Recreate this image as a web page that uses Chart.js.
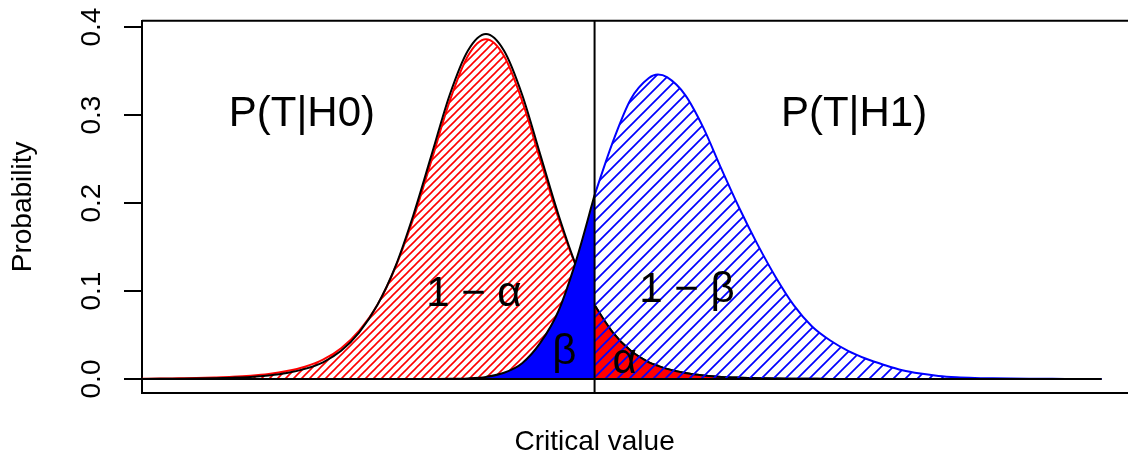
<!DOCTYPE html>
<html>
<head>
<meta charset="utf-8">
<title>Critical value</title>
<script src="https://cdn.jsdelivr.net/npm/chart.js@4"></script>
<style>
  html, body { margin: 0; padding: 0; background: #ffffff; overflow: hidden; }
  canvas { display: block; }
</style>
</head>
<body>
<canvas id="c" width="1128" height="461"></canvas>
<script>
// Test statistic values (shared by all curves)
const XS = [-5.7, -5.4, -5.1, -4.8, -4.5, -4.2, -3.9, -3.6, -3.3, -3.0,
            -2.7, -2.4, -2.1, -1.8, -1.5, -1.2, -0.9, -0.6, -0.3, 0.0,
             0.3,  0.6,  0.9,  1.2,  1.5,  1.8,  2.1,  2.4,  2.7, 2.85,
             3.0,  3.3,  3.6,  3.9,  4.2,  4.5,  4.8,  5.1,  5.4,  5.7,
             6.0,  6.3,  6.6,  6.9,  7.2,  7.5,  7.8,  8.1,  8.4,  8.7,
             9.0,  9.3,  9.6,  9.9, 10.2];

// Critical value separating the acceptance and rejection regions
const CRIT = 1.8;

// Density under H0 (black outline)
const H0_DENSITY = [0.0001, 0.0002, 0.0003, 0.0005, 0.0009, 0.0015, 0.0024, 0.0041, 0.0068, 0.0115,
                    0.019,  0.032,  0.053,  0.084,  0.128,  0.187,  0.255,  0.323,  0.373,  0.392,
                    0.373,  0.323,  0.255,  0.187,  0.128,  0.084,  0.053,  0.032,  0.019,  0.015,
                    0.0115, 0.0068, 0.0041, 0.0024, 0.0015, 0.0009, 0.0005, 0.0003, 0.0002, 0.0001,
                    0.0001, 0.0001, 0, 0, 0, 0, 0, 0, 0, 0,
                    0, 0, 0, 0, 0];

// Heavier-tailed H0 density (red, acceptance region only: XS[0] .. CRIT)
const H0_ACCEPT = [0.0004, 0.0005, 0.0008, 0.0011, 0.0017, 0.0025, 0.0038, 0.0058, 0.009, 0.014,
                   0.022,  0.035,  0.055,  0.084,  0.127,  0.183,  0.249,  0.316,  0.367, 0.386,
                   0.367,  0.316,  0.249,  0.183,  0.127,  0.084];

// Density under H1 (blue)
const H1_DENSITY = [0, 0, 0, 0, 0, 0, 0, 0, 0, 0,
                    0, 0, 0, 0, 0, 0, 0.0001, 0.0002, 0.0007, 0.0024,
                    0.0071, 0.018, 0.041, 0.077, 0.136, 0.209, 0.269, 0.318, 0.342, 0.346,
                    0.343, 0.323, 0.286, 0.239, 0.194, 0.153, 0.116, 0.084, 0.060, 0.044,
                    0.032, 0.023, 0.016, 0.010, 0.0062, 0.0035, 0.002, 0.0012, 0.0008, 0.0005,
                    0.0003, 0.0002, 0.0001, 0.0001, 0];

// Y axis ticks
const Y_TICKS = [0.0, 0.1, 0.2, 0.3, 0.4];
const Y_TICK_LABELS = ['0.0', '0.1', '0.2', '0.3', '0.4'];

// Axis ranges
const X_MIN = -5.7, X_MAX = 10.64;
const Y_MIN = -0.0159, Y_MAX = 0.4072;

// Text annotations inside the plot
const NOTE_TEXT = ['P(T|H0)', 'P(T|H1)', '1 \u2212 \u03b1', '1 \u2212 \u03b2', '\u03b2', '\u03b1'];
const NOTE_X    = [-3.05, 6.1, -0.2, 3.33, 1.3, 2.3];
const NOTE_Y    = [0.3, 0.3, 0.1, 0.1, 0.03, 0.02];

const X_TITLE = 'Critical value';
const Y_TITLE = 'Probability';

const FONT = '"Liberation Sans", Arial, Helvetica, sans-serif';
const LW = 2;

function pts(xs, ys) {
  return ys.map((y, i) => ({ x: xs[i], y: y }));
}
const critIdx = XS.indexOf(CRIT);
const leftXs = XS.slice(0, critIdx + 1);
const rightXs = XS.slice(critIdx);

// 45 degree shading tile
function hatch(color, step, lw) {
  const c = document.createElement('canvas');
  c.width = step; c.height = step;
  const g = c.getContext('2d');
  g.strokeStyle = color;
  g.lineWidth = lw;
  g.lineCap = 'square';
  g.beginPath();
  g.moveTo(-1, step + 1); g.lineTo(step + 1, -1);
  g.moveTo(-2, 2); g.lineTo(2, -2);
  g.moveTo(step - 2, step + 2); g.lineTo(step + 2, step - 2);
  g.stroke();
  return g.createPattern(c, 'repeat');
}

const redHatch = hatch('#ff0000', 8, 1.6);
const blueHatch = hatch('#0000ff', 12, 1.7);

const common = {
  pointRadius: 0,
  pointHoverRadius: 0,
  cubicInterpolationMode: 'monotone',
  borderWidth: LW
};

const datasets = [
  // acceptance region under H0, hatched red
  Object.assign({}, common, {
    data: pts(leftXs, H0_ACCEPT),
    borderColor: '#ff0000',
    backgroundColor: redHatch,
    fill: 'origin',
    order: 7
  }),
  // H0 density curve
  Object.assign({}, common, {
    data: pts(XS, H0_DENSITY),
    borderColor: '#000000',
    fill: false,
    order: 6
  }),
  // beta: H1 mass below the critical value
  Object.assign({}, common, {
    data: pts(leftXs, H1_DENSITY.slice(0, critIdx + 1)),
    borderColor: '#000000',
    backgroundColor: '#0000ff',
    fill: 'origin',
    order: 5
  }),
  // alpha: H0 mass above the critical value
  Object.assign({}, common, {
    data: pts(rightXs, H0_DENSITY.slice(critIdx)),
    borderColor: '#000000',
    backgroundColor: '#ff0000',
    fill: 'origin',
    order: 4
  }),
  // power: H1 mass above the critical value, hatched blue
  Object.assign({}, common, {
    data: pts(rightXs, H1_DENSITY.slice(critIdx)),
    borderColor: '#0000ff',
    backgroundColor: blueHatch,
    fill: 'origin',
    order: 3
  }),
  // zero line along the support
  Object.assign({}, common, {
    data: [{ x: XS[0], y: 0 }, { x: XS[XS.length - 1], y: 0 }],
    borderColor: '#000000',
    fill: false,
    order: 2
  })
];

const decorations = {
  id: 'decorations',
  afterDatasetsDraw(chart) {
    const ctx = chart.ctx;
    const area = chart.chartArea;
    const xs = chart.scales.x, ys = chart.scales.y;
    ctx.save();
    ctx.strokeStyle = '#000';
    ctx.lineWidth = LW;
    // critical value line
    const cx = xs.getPixelForValue(CRIT);
    ctx.beginPath();
    ctx.moveTo(cx, area.top);
    ctx.lineTo(cx, area.bottom);
    ctx.stroke();
    // box top and bottom
    ctx.beginPath();
    ctx.moveTo(area.left, area.top); ctx.lineTo(chart.width + 5, area.top);
    ctx.moveTo(area.left, area.bottom); ctx.lineTo(chart.width + 5, area.bottom);
    ctx.stroke();

    // annotations, ink box centred on the anchor
    ctx.fillStyle = '#000';
    ctx.font = '42px ' + FONT;
    ctx.textAlign = 'center';
    ctx.textBaseline = 'alphabetic';
    NOTE_TEXT.forEach((t, i) => {
      const px = xs.getPixelForValue(NOTE_X[i]);
      const py = ys.getPixelForValue(NOTE_Y[i]);
      const m = ctx.measureText(t);
      const base = py + (m.actualBoundingBoxAscent - m.actualBoundingBoxDescent) / 2;
      ctx.fillText(t, px, base);
    });

    // y tick labels, parallel to the axis
    ctx.font = '28px ' + FONT;
    Y_TICKS.forEach((v, i) => {
      const py = ys.getPixelForValue(v);
      ctx.save();
      ctx.translate(100, py);
      ctx.rotate(-Math.PI / 2);
      ctx.fillText(Y_TICK_LABELS[i], 0, 0);
      ctx.restore();
    });

    // axis titles
    ctx.save();
    ctx.translate(31, (area.top + area.bottom) / 2);
    ctx.rotate(-Math.PI / 2);
    ctx.fillText(Y_TITLE, 0, 0);
    ctx.restore();
    ctx.fillText(X_TITLE, cx, 450);
    ctx.restore();
  }
};

new Chart(document.getElementById('c'), {
  type: 'line',
  data: { datasets: datasets },
  options: {
    responsive: false,
    animation: false,
    devicePixelRatio: 1,
    events: [],
    layout: { padding: { left: 0, top: 20.7, right: 0, bottom: 68 } },
    plugins: {
      legend: { display: false },
      tooltip: { enabled: false },
      filler: { propagate: false }
    },
    scales: {
      x: { type: 'linear', min: X_MIN, max: X_MAX, display: false },
      y: {
        type: 'linear',
        min: Y_MIN,
        max: Y_MAX,
        position: 'left',
        afterFit(scale) { scale.width = 142; },
        border: { display: true, color: '#000', width: LW },
        grid: { drawOnChartArea: false, drawTicks: true, tickLength: 18, color: '#000', lineWidth: LW },
        ticks: { display: false, stepSize: 0.1, includeBounds: false }
      }
    }
  },
  plugins: [decorations]
});
</script>
</body>
</html>
